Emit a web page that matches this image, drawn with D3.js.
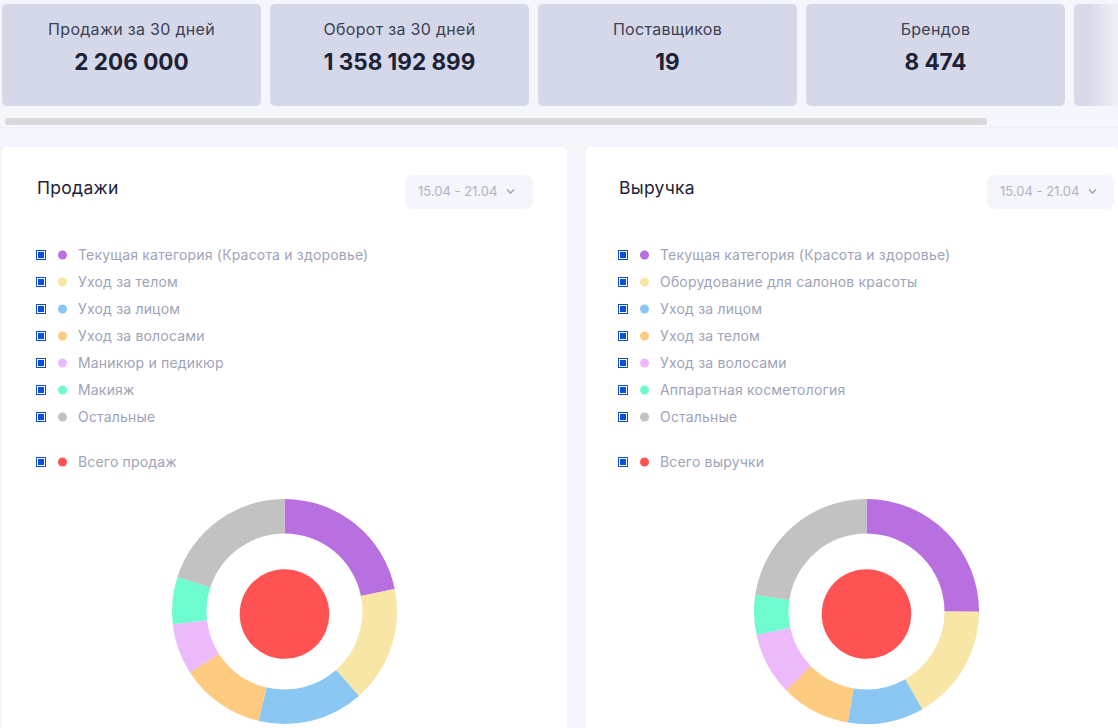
<!DOCTYPE html>
<html>
<head>
<meta charset="utf-8">
<script src="https://cdn.jsdelivr.net/npm/d3@7"></script>
<style>
  html, body { margin: 0; padding: 0; background: #f5f6fb; overflow: hidden; }
  svg { display: block; font-family: Inter, "Open Sans", sans-serif; }
</style>
</head>
<body>
<svg id="container" width="1118" height="728"></svg>
<script>
const cardLabels = ["Продажи за 30 дней", "Оборот за 30 дней", "Поставщиков", "Брендов", ""];
const cardValues = ["2 206 000", "1 358 192 899", "19", "8 474", ""];

const salesNames = ["Текущая категория (Красота и здоровье)", "Уход за телом", "Уход за лицом", "Уход за волосами", "Маникюр и педикюр", "Макияж", "Остальные"];
const salesShares = [21.8, 16.7, 15.2, 12.2, 7.3, 6.8, 20.0];
const revenueNames = ["Текущая категория (Красота и здоровье)", "Оборудование для салонов красоты", "Уход за лицом", "Уход за телом", "Уход за волосами", "Аппаратная косметология", "Остальные"];
const revenueShares = [25.0, 16.7, 10.9, 10.0, 9.0, 5.7, 22.6];
const sliceColors = ["#b86fe0", "#f8e6a6", "#8bc7f3", "#fdcb80", "#ecb9fb", "#6ffbd0", "#c2c2c2"];
const totalColor = "#ff5252";

const svg = d3.select("#container");

// верхние карточки
const cardX = d3.scaleBand().domain(d3.range(5)).range([2, 1333]).paddingInner(9 / 268).paddingOuter(0);
const fade = svg.append("defs").append("linearGradient").attr("id", "fade");
fade.append("stop").attr("offset", "0").attr("stop-color", "#d4d8e8");
fade.append("stop").attr("offset", "0.06").attr("stop-color", "#d8dbea");
fade.append("stop").attr("offset", "0.175").attr("stop-color", "#f1f2f8");

const cards = svg.selectAll(".card").data(cardLabels).enter().append("g")
  .attr("class", "card")
  .attr("transform", (d, i) => `translate(${cardX(i)},4)`);
cards.append("rect")
  .attr("width", cardX.bandwidth())
  .attr("height", 102)
  .attr("rx", 5)
  .attr("fill", (d, i) => i === 4 ? "url(#fade)" : "#d4d8e8");
cards.append("text")
  .attr("x", cardX.bandwidth() / 2)
  .attr("y", 31)
  .attr("text-anchor", "middle")
  .attr("font-size", 16)
  .attr("letter-spacing", 0.3)
  .attr("fill", "#3c4157")
  .text(d => d);
cards.append("text")
  .attr("x", cardX.bandwidth() / 2)
  .attr("y", 66)
  .attr("text-anchor", "middle")
  .attr("font-size", 22.5)
  .attr("font-weight", 700)
  .attr("fill", "#1d2136")
  .text((d, i) => cardValues[i]);

// полоса прокрутки
svg.append("rect").attr("x", 0).attr("y", 127).attr("width", 1118).attr("height", 1).attr("fill", "#eef0f6");
svg.append("rect").attr("x", 5).attr("y", 118).attr("width", 982).attr("height", 7).attr("rx", 3.5).attr("fill", "#d8d8d8");

function panel (x, panelLeft, w, title, total, names, shares, btnW) {
  const g = svg.append("g").attr("transform", `translate(${x},147)`);
  g.append("rect").attr("x", panelLeft).attr("width", w).attr("height", 620).attr("rx", 5).attr("fill", "#fff");
  g.append("text").attr("x", 35).attr("y", 47).attr("font-size", 17.5).attr("letter-spacing", 0.3).attr("fill", "#1d2136").text(title);

  g.append("rect").attr("x", 403).attr("y", 28).attr("width", btnW).attr("height", 34).attr("rx", 8).attr("fill", "#f5f6fb");
  g.append("text").attr("x", 416).attr("y", 49).attr("font-size", 13).attr("fill", "#aeb2c4").text("15.04 - 21.04");
  g.append("path").attr("d", "M505 42.5l3.5 3.5 3.5-3.5").attr("fill", "none").attr("stroke", "#9a9fb5").attr("stroke-width", 1.3);

  const rows = names.concat([total]);
  const rowY = d3.scaleLinear().domain([0, 6]).range([108, 270]);
  const legend = g.selectAll(".row").data(rows).enter().append("g")
    .attr("class", "row")
    .attr("transform", (d, i) => `translate(0,${i === 7 ? 315 : rowY(i)})`);
  legend.append("rect").attr("x", 34.5).attr("y", -4.5).attr("width", 9).attr("height", 9).attr("fill", "#fff").attr("stroke", "#0a4fd6").attr("stroke-width", 1);
  legend.append("rect").attr("x", 36).attr("y", -3).attr("width", 6).attr("height", 6).attr("fill", "#0a4fd6");
  legend.append("circle").attr("cx", 60.5).attr("r", 4.5).attr("fill", (d, i) => i === 7 ? totalColor : sliceColors[i]);
  legend.append("text").attr("x", 76).attr("y", 4.8).attr("font-size", 14).attr("letter-spacing", 0.18).attr("fill", "#9ea3b8").text(d => d);

  const pie = d3.pie().sort(null)(shares);
  const arc = d3.arc().innerRadius(78).outerRadius(112.5);
  const donut = g.append("g").attr("transform", "translate(282.5,464.5)");
  donut.selectAll("path").data(pie).enter().append("path")
    .attr("d", arc)
    .attr("fill", (d, i) => sliceColors[i]);
  donut.append("path")
    .attr("transform", "translate(0,2.5)")
    .attr("d", d3.arc().innerRadius(0).outerRadius(44.8)(d3.pie()([100])[0]))
    .attr("fill", totalColor);
}

panel(2, 0, 565, "Продажи", "Всего продаж", salesNames, salesShares, 128);
panel(584, 2, 532, "Выручка", "Всего выручки", revenueNames, revenueShares, 127);
</script>
</body>
</html>
